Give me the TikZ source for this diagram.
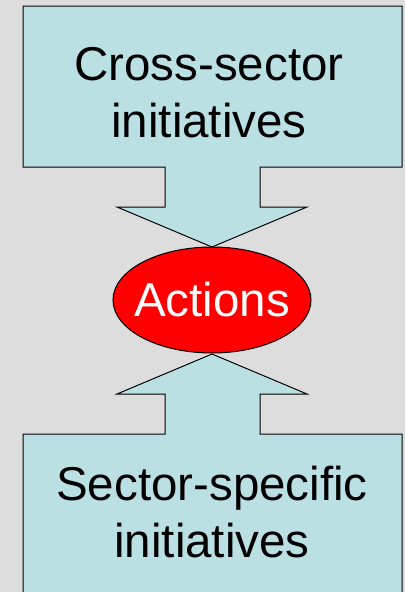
\documentclass[tikz,border=0pt]{standalone}
\usepackage{fontspec}
\setmainfont{Liberation Sans}
\usetikzlibrary{shapes}

\definecolor{bggray}{RGB}{221,221,221}
\definecolor{boxcyan}{RGB}{186,224,228}

\begin{document}
\begin{tikzpicture}[
		x=1pt,
		y=-1pt,
		bigtext/.style={
			font=\fontsize{47.5}{57}\selectfont,
			align=center,
			inner sep=0pt
		},
		block/.style={
			draw=black,
			line width=1pt,
			fill=boxcyan
		},
		hub/.style={
			ellipse,
			draw=black,
			line width=1pt,
			fill=red,
			text=white,
			minimum width=198pt,
			minimum height=106pt,
			inner sep=0pt,
			font=\fontsize{47.5}{57}\selectfont
		}
	]
	% Page and background
	\useasboundingbox (0,0) rectangle (405,592);
	\fill[bggray] (0,0) rectangle (405,592);
	\clip (0,0) rectangle (405,592);

	% Upper block arrow
	\draw[block] (23,6) -- (402,6) -- (402,167) -- (260,167) -- (260,207)
		-- (307,207) -- (212,247) -- (117,207) -- (165,207) -- (165,167)
		-- (23,167) -- cycle;
	\node[bigtext, anchor=base] (cross) at (209,137) {Cross-sector\\initiatives};

	% Lower block arrow
	\draw[block] (212,354) -- (307,394) -- (260,394) -- (260,434)
		-- (402,434) -- (402,610) -- (23,610) -- (23,434) -- (165,434)
		-- (165,394) -- (117,394) -- cycle;
	\node[bigtext, anchor=base] (sector) at (212,557) {Sector-specific\\initiatives};

	% Actions in the middle
	\node[hub] (actions) at (212,300) {\makebox[0pt]{Actions}};
\end{tikzpicture}
\end{document}
